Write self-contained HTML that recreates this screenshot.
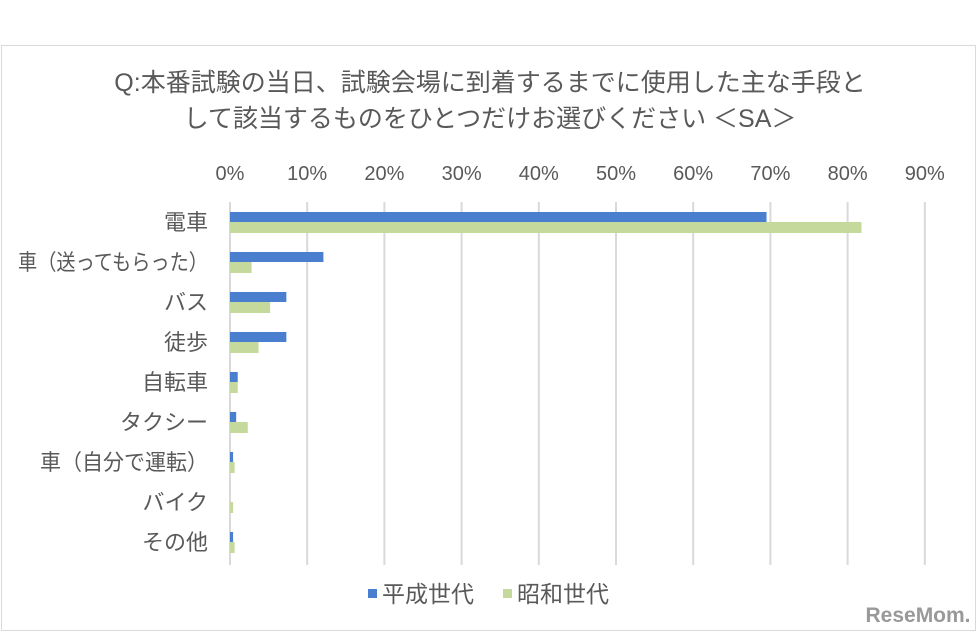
<!DOCTYPE html>
<html><head><meta charset="utf-8"><style>
html,body{margin:0;padding:0;background:#fff;}
svg{display:block;font-family:"Liberation Sans","Noto Sans CJK JP",sans-serif;}
</style></head><body>
<svg id="chart" width="977" height="642" viewBox="0 0 977 642" xmlns="http://www.w3.org/2000/svg">
<rect x="1.5" y="45.5" width="974" height="585" fill="#fff" stroke="#d9d9d9"/>
<text x="490" y="91" text-anchor="middle" font-size="25" fill="#595959">Q:本番試験の当日、試験会場に到着するまでに使用した主な手段と</text>
<text x="490" y="127" text-anchor="middle" font-size="25" fill="#595959">して該当するものをひとつだけお選びください ＜SA＞</text>
<g id="grid"></g><g id="bars"></g><g id="labels"></g>
<g>
<rect x="368" y="589" width="9" height="9" fill="#4a7fd0"/>
<text x="382" y="602" font-size="23" fill="#595959">平成世代</text>
<rect x="503" y="589" width="9" height="9" fill="#c5d99d"/>
<text x="517" y="602" font-size="23" fill="#595959">昭和世代</text>
</g>
<text x="918" y="622" text-anchor="middle" font-size="21" font-weight="bold" fill="#999">ReseMom.</text>
</svg>
<script>
const categories=["電車","車（送ってもらった）","バス","徒歩","自転車","タクシー","車（自分で運転）","バイク","その他"];
const heisei=[69.5,12.1,7.3,7.3,1.0,0.8,0.4,0,0.4];
const showa=[81.8,2.8,5.2,3.7,1.0,2.3,0.6,0.4,0.6];
const ticks=[0,10,20,30,40,50,60,70,80,90];
const NS="http://www.w3.org/2000/svg";
const x0=230,pxPer=7.72,top0=202,rowH=40;
const xs=v=>x0+v*pxPer;
function mk(tag,attrs,parent,txt){const e=document.createElementNS(NS,tag);for(const k in attrs)e.setAttribute(k,attrs[k]);if(txt!==undefined)e.textContent=txt;document.getElementById(parent).appendChild(e);return e;}
ticks.forEach(t=>{
 const l=mk('line',{x1:xs(t),x2:xs(t),y1:202,y2:565,stroke:'#d9d9d9','stroke-width':2},'grid');
 
 
 const tx=mk('text',{x:xs(t),y:180,'text-anchor':'middle','font-size':20,fill:'#595959'},'labels',t+'%');
 
 
});
categories.forEach((c,i)=>{
 const cy=top0+rowH*i+20;
 const b=mk('rect',{x:x0,y:cy-10,width:heisei[i]*pxPer,height:10,fill:'#4a7fd0'},'bars');
 
 
 const g=mk('rect',{x:x0,y:cy,width:showa[i]*pxPer,height:11,fill:'#c5d99d'},'bars');
 
 
 const t=mk('text',{x:208,y:cy+8,'text-anchor':'end','font-size':22,fill:'#595959'},'labels',c);
 if(c.length>=8){t.setAttribute('textLength',c.length>=10?190:168);t.setAttribute('lengthAdjust','spacingAndGlyphs');}
 
 
});
</script>
</body></html>
